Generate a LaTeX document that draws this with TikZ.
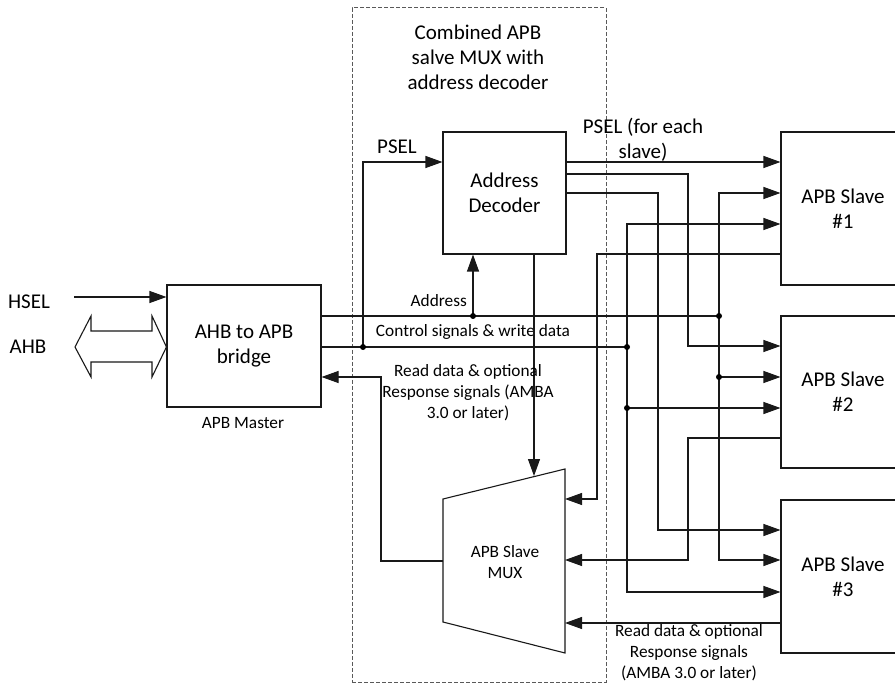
\documentclass[tikz,border=0pt]{standalone}
\usepackage{fontspec}
\setmainfont{Carlito}
\usetikzlibrary{arrows.meta}
\tikzset{
  wire/.style={line width=1.1pt, draw=black!90},
  arr/.style={wire, -{Triangle[length=17pt,width=12pt]}},
  blk/.style={draw=black!90, line width=1.1pt, fill=white, inner sep=0pt, align=center,
              font=\fontsize{21}{25}\selectfont},
  big/.style={inner sep=0pt, align=center, font=\fontsize{21}{25}\selectfont},
  small/.style={inner sep=0pt, align=center, font=\fontsize{17.3}{21}\selectfont},
  dot/.style={circle, fill=black, inner sep=0pt, minimum size=6pt},
  dbox/.style={draw=black!65, line width=1pt, dash pattern=on 4pt off 2pt, inner sep=0pt}
}
\begin{document}
\begin{tikzpicture}[x=1pt,y=-1pt]
\clip (0,0) rectangle (895,687);
\fill[white] (0,0) rectangle (895,687);

% dashed combined box
\node[dbox, minimum width=254pt, minimum height=674pt] (combo) at (479,345) {};
\node[big] (title) at (478,57) {Combined APB\\salve MUX with\\address decoder};

% blocks
\node[blk, minimum width=154pt, minimum height=122pt] (bridge) at (244,346) {AHB to APB\\bridge};
\node[small] (master) at (243,423) {APB Master};
\node[blk, minimum width=123pt, minimum height=122pt] (dec) at (504.5,193) {Address\\Decoder};
\node[blk, minimum width=124pt, minimum height=153pt] (s1) at (843,208.5) {APB Slave\\\#1};
\node[blk, minimum width=124pt, minimum height=152pt] (s2) at (843,392) {APB Slave\\\#2};
\node[blk, minimum width=124pt, minimum height=153pt] (s3) at (843,576.5) {APB Slave\\\#3};

% MUX trapezoid
\coordinate (mtl) at (443,499);
\coordinate (mtr) at (565,469);
\coordinate (mbr) at (565,653);
\coordinate (mbl) at (443,622);
\draw[wire, fill=white] (mtl) -- (mtr) -- (mbr) -- (mbl) -- cycle;
\node[small] (mux) at (505,562) {APB Slave\\MUX};

% left inputs
\node[big] (hsel) at (29,302) {HSEL};
\node[big] (ahb) at (28,347) {AHB};
\coordinate (hselin) at (74,297);
\draw[arr] (hselin) -- (bridge.west |- hselin);
\draw[wire, fill=white] (75,347) -- (91,316) -- (91,331) -- (152,331) -- (152,316) -- (bridge.west |- 0,347)
  -- (152,377) -- (152,362) -- (91,362) -- (91,377) -- cycle;

% junction points
\coordinate (addrj) at (473,316);
\coordinate (addrb) at (719,316);
\coordinate (addrs2) at (719,377);
\coordinate (pselj) at (363,347);
\coordinate (ctrlb) at (627,347);
\coordinate (ctrls2) at (627,408);

% address bus
\draw[wire] (bridge.east |- addrj) -- (addrb);
\draw[arr] (addrj) -- (addrj |- dec.south);
\draw[arr] (addrb) |- (s1.west |- 0,193);
\draw[arr] (addrb) |- (s3.west |- 0,560);
\draw[arr] (addrs2) -- (s2.west |- addrs2);
\node[small, anchor=east] (addrlbl) at (467,301) {Address};

% control bus
\draw[wire] (bridge.east |- ctrlb) -- (ctrlb);
\draw[arr] (ctrlb) |- (s1.west |- 0,224);
\draw[arr] (ctrlb) |- (s3.west |- 0,592);
\draw[arr] (ctrls2) -- (s2.west |- ctrls2);
\draw[arr] (pselj) |- (dec.west |- 0,162);
\node[big] (psel) at (397,147) {PSEL};
\node[small] (ctrllbl) at (473,332) {Control signals \& write data};

% decoder PSEL outputs
\draw[arr] (dec.east |- 0,162) -- (s1.west |- 0,162);
\draw[arr] (dec.east |- 0,174) -| (688,346) -- (s2.west |- 0,346);
\draw[arr] (dec.east |- 0,193) -| (658,530) -- (s3.west |- 0,530);
\node[big] (pselall) at (643,139.5) {PSEL (for each\\slave)};

% decoder to mux
\draw[arr] (dec.south -| 534,0) -- (534,476);

% slave read data to mux
\draw[arr] (s1.west |- 0,254) -| (597,499) -- (565,499);
\draw[arr] (s2.west |- 0,438) -| (688,560) -- (565,560);
\draw[arr] (s3.west |- 0,623) -- (565,623);
\node[small] (rdlbl2) at (689,653) {Read data \& optional\\Response signals\\(AMBA 3.0 or later)};

% mux output to bridge
\draw[arr] (443,561) -| (381,377) -- (bridge.east |- 0,377);
\node[small] (rdlbl1) at (468,393) {Read data \& optional\\Response signals (AMBA\\3.0 or later)};

% dots
\foreach \p in {addrj,addrb,addrs2,pselj,ctrlb,ctrls2}
  \node[dot] at (\p) {};
\end{tikzpicture}
\end{document}
